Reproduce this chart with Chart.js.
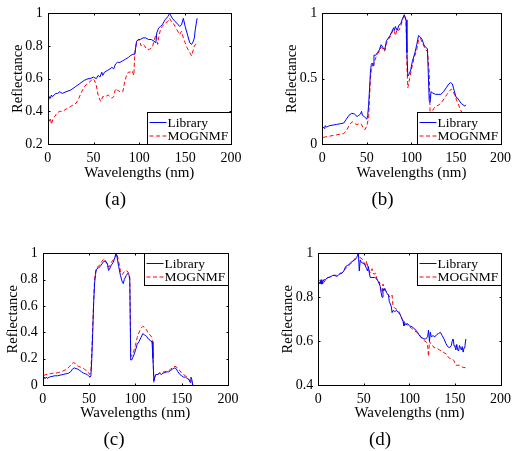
<!DOCTYPE html>
<html>
<head>
    <title>Library vs MOGNMF spectra</title>
    <script src="https://cdn.jsdelivr.net/npm/chart.js"></script>
    <style>
        body { margin: 0; background: #fff; width: 517px; height: 451px; overflow: hidden; position: relative; }
        canvas { position: absolute; }
    </style>
</head>
<body>
    <canvas id="chartA" width="258" height="225" style="left:0;top:0"></canvas>
    <canvas id="chartB" width="259" height="225" style="left:258px;top:0"></canvas>
    <canvas id="chartC" width="258" height="225" style="left:0;top:240px"></canvas>
    <canvas id="chartD" width="259" height="225" style="left:258px;top:240px"></canvas>
    <script type="text/javascript">
        // (a) spectra
        const xLibA = [1,2,3,4,5,7,9,11,13,16,20,25,30,35,40,44,46,50,53,55,57,59,60,62,65,68,70,72,74,76,79,82,85,88,90,93,95,96,97,99,101,104,107,110,113,116,118,119,121,123,125,128,131,133,134,136,139,141,144,146,148,150,152,155,157,159,160,161,163];
        const libA = [0.47,0.49,0.48,0.50,0.49,0.50,0.51,0.51,0.52,0.51,0.52,0.53,0.55,0.57,0.59,0.60,0.60,0.61,0.60,0.62,0.61,0.64,0.62,0.64,0.65,0.66,0.67,0.66,0.69,0.70,0.70,0.71,0.72,0.73,0.74,0.75,0.75,0.79,0.83,0.84,0.84,0.85,0.85,0.84,0.84,0.83,0.82,0.88,0.91,0.92,0.93,0.96,0.98,1.0,0.99,0.97,0.95,0.94,0.92,0.93,0.97,0.92,0.88,0.82,0.81,0.83,0.85,0.90,0.97];
        const xMogA = [1,2,3,4,6,8,10,13,16,19,22,25,28,31,34,37,40,43,46,49,51,53,55,57,58,60,63,66,68,70,72,74,76,79,82,84,86,88,90,92,94,95,97,100,102,104,106,108,111,114,116,118,119,120,121,123,125,128,131,133,135,137,139,141,144,146,148,150,152,155,157,160,163];
        const mogA = [0.35,0.34,0.36,0.32,0.36,0.37,0.39,0.40,0.40,0.41,0.42,0.43,0.44,0.45,0.48,0.52,0.55,0.57,0.58,0.60,0.59,0.56,0.50,0.47,0.46,0.49,0.49,0.50,0.49,0.48,0.49,0.54,0.53,0.52,0.52,0.58,0.62,0.64,0.64,0.65,0.62,0.75,0.83,0.84,0.80,0.81,0.80,0.78,0.78,0.79,0.83,0.87,0.85,0.81,0.85,0.90,0.92,0.94,0.95,0.97,0.95,0.94,0.92,0.90,0.87,0.89,0.85,0.82,0.79,0.76,0.74,0.80,0.82];

        // (b) spectra
        const xLibB = [1,2,3,5,8,12,16,20,24,27,30,33,36,39,41,43,44,45,47,50,51,52,53,54,55,56,57,58,60,62,64,66,68,70,72,74,76,78,80,81,82,84,86,88,90,92,94,95,96,97,99,101,104,106,108,110,112,114,116,118,120,121,122,124,127,130,133,136,139,142,144,146,148,150,152,154,156,158,160,161];
        const libB = [0.13,0.12,0.14,0.13,0.14,0.145,0.15,0.155,0.16,0.19,0.22,0.235,0.23,0.21,0.22,0.23,0.25,0.22,0.21,0.19,0.22,0.30,0.42,0.55,0.61,0.62,0.60,0.68,0.68,0.70,0.72,0.76,0.74,0.72,0.79,0.81,0.83,0.86,0.89,0.87,0.90,0.87,0.91,0.92,0.96,0.99,0.95,0.70,0.52,0.53,0.56,0.63,0.70,0.76,0.83,0.82,0.80,0.76,0.74,0.73,0.33,0.32,0.40,0.39,0.38,0.38,0.38,0.40,0.43,0.46,0.47,0.46,0.41,0.36,0.35,0.33,0.31,0.30,0.29,0.30];
        const xMogB = [1,4,8,12,16,20,24,27,30,32,34,36,38,40,42,44,46,48,50,52,53,54,55,56,58,60,62,64,66,68,70,72,74,76,78,80,81,82,84,86,88,90,92,94,95,96,98,100,103,106,108,110,112,114,116,118,120,121,122,124,126,128,131,134,137,140,143,145,147,149,151,153,155,157];
        const mogB = [0.05,0.055,0.06,0.065,0.07,0.075,0.08,0.10,0.14,0.16,0.17,0.16,0.15,0.15,0.16,0.15,0.12,0.11,0.14,0.20,0.35,0.50,0.57,0.59,0.62,0.66,0.69,0.71,0.74,0.73,0.71,0.77,0.80,0.82,0.85,0.88,0.86,0.83,0.88,0.87,0.90,0.95,0.99,0.94,0.60,0.43,0.50,0.57,0.66,0.72,0.80,0.81,0.78,0.75,0.72,0.71,0.55,0.23,0.22,0.26,0.28,0.29,0.30,0.32,0.35,0.38,0.41,0.42,0.40,0.37,0.33,0.30,0.26,0.24];

        // (c) spectra
        const xLibC = [1,2,3,4,5,7,10,13,16,19,22,25,28,30,32,34,36,38,40,42,44,46,48,50,51,52,53,54,55,56,57,58,60,62,64,66,68,70,71,72,74,76,78,79,80,82,84,86,87,88,90,92,93,94,95,96,98,100,102,104,106,108,110,112,114,116,117,118,119,120,121,122,124,126,128,130,132,134,136,138,140,142,144,146,148,150,152,154,156,158,159,160,161,162];
        const libC = [0.04,0.06,0.05,0.06,0.05,0.06,0.065,0.07,0.07,0.075,0.08,0.085,0.09,0.10,0.12,0.13,0.125,0.12,0.11,0.10,0.09,0.085,0.08,0.065,0.06,0.07,0.20,0.40,0.62,0.77,0.84,0.88,0.89,0.90,0.92,0.94,0.94,0.92,0.87,0.88,0.91,0.93,0.97,1.0,0.98,0.90,0.83,0.78,0.77,0.80,0.83,0.85,0.84,0.80,0.19,0.19,0.22,0.26,0.31,0.33,0.36,0.39,0.38,0.37,0.35,0.34,0.33,0.33,0.20,0.03,0.06,0.08,0.08,0.09,0.08,0.09,0.095,0.10,0.10,0.11,0.12,0.13,0.125,0.10,0.08,0.07,0.06,0.06,0.05,0.04,0.02,0.06,0.04,0.0];
        const xMogC = [1,3,5,8,11,14,17,20,23,26,29,31,33,35,37,39,41,43,45,47,49,50,51,52,53,54,55,56,57,58,60,62,64,66,68,70,72,74,76,78,80,82,84,86,88,90,92,94,95,96,98,100,102,104,106,108,110,112,114,116,118,119,120,121,122,124,126,128,130,132,134,136,138,140,142,144,146,148,150,152,154,156,158,160,162];
        const mogC = [0.07,0.08,0.08,0.085,0.09,0.09,0.095,0.10,0.11,0.12,0.14,0.16,0.17,0.165,0.15,0.14,0.135,0.13,0.12,0.11,0.10,0.085,0.08,0.10,0.25,0.45,0.65,0.80,0.86,0.89,0.90,0.92,0.94,0.96,0.94,0.90,0.90,0.93,0.95,0.97,1.0,0.94,0.86,0.84,0.86,0.87,0.86,0.82,0.22,0.22,0.25,0.30,0.36,0.40,0.43,0.445,0.44,0.42,0.39,0.38,0.36,0.25,0.02,0.06,0.08,0.08,0.09,0.09,0.10,0.10,0.11,0.11,0.12,0.13,0.14,0.14,0.12,0.11,0.09,0.08,0.07,0.06,0.04,0.03,0.0];

        // (d) spectra
        const xLibD = [1,2,3,4,5,6,8,10,12,14,16,18,20,22,24,26,28,30,32,34,36,38,40,42,43,44,45,46,47,49,51,53,54,55,56,57,58,60,62,64,66,68,69,70,71,72,73,75,77,78,80,81,82,84,86,88,90,92,93,94,95,96,98,100,103,106,109,112,114,116,118,120,121,122,123,124,126,128,130,132,134,136,138,140,142,144,146,147,148,149,150,151,152,153,154,155,156,157,158,159,160,161,162];
        const libD = [0.87,0.86,0.88,0.86,0.87,0.88,0.88,0.89,0.89,0.895,0.90,0.90,0.895,0.90,0.91,0.91,0.92,0.94,0.945,0.95,0.96,0.965,0.97,0.98,0.99,1.0,0.92,0.97,0.96,0.955,0.95,0.93,0.92,0.94,0.91,0.89,0.89,0.89,0.89,0.885,0.87,0.85,0.82,0.80,0.84,0.83,0.84,0.82,0.81,0.78,0.76,0.73,0.74,0.735,0.74,0.73,0.72,0.70,0.69,0.67,0.68,0.675,0.68,0.67,0.665,0.655,0.64,0.62,0.615,0.61,0.61,0.62,0.65,0.60,0.64,0.62,0.625,0.62,0.63,0.635,0.64,0.625,0.61,0.59,0.575,0.57,0.58,0.60,0.61,0.58,0.575,0.56,0.585,0.56,0.555,0.58,0.57,0.56,0.575,0.55,0.57,0.58,0.61];
        const xMogD = [1,3,5,8,11,14,17,20,23,26,29,32,35,38,41,43,44,46,48,50,52,53,55,57,59,61,63,65,67,69,70,71,72,73,75,77,79,81,82,84,86,88,90,92,94,96,99,102,105,108,111,114,117,119,120,121,122,123,125,127,129,131,133,135,137,139,141,143,145,147,149,151,153,155,157,159,161,163];
        const mogD = [0.88,0.87,0.86,0.88,0.89,0.895,0.90,0.90,0.905,0.91,0.925,0.94,0.95,0.965,0.98,0.99,1.0,0.98,0.975,0.96,0.94,0.965,0.93,0.91,0.93,0.905,0.91,0.87,0.87,0.83,0.82,0.86,0.85,0.835,0.825,0.81,0.80,0.81,0.76,0.75,0.745,0.74,0.72,0.70,0.69,0.68,0.67,0.66,0.65,0.64,0.63,0.61,0.60,0.595,0.58,0.53,0.60,0.59,0.585,0.57,0.57,0.565,0.56,0.555,0.55,0.545,0.54,0.525,0.52,0.52,0.51,0.49,0.49,0.49,0.485,0.48,0.48,0.475];

        const xTicks = [0, 50, 100, 150, 200];
        const seriesNames = ['Library', 'MOGNMF'];
        const captions = ['(a)', '(b)', '(c)', '(d)'];

        const SERIF = '"Liberation Serif", "Times New Roman", serif';

        function toXY(xs, ys) {
            return xs.map(function(x, i) { return {x: x, y: ys[i]}; });
        }

        // MATLAB-ish box: frame, inward ticks on all four sides, legend drawn inside the axes
        const boxPlugin = {
            id: 'boxPlugin',
            afterDraw: function(chart) {
                const ctx = chart.ctx;
                const a = chart.chartArea;
                const L = Math.round(a.left) + 0.5, R = Math.round(a.right) + 0.5;
                const T = Math.round(a.top) + 0.5, B = Math.round(a.bottom) + 0.5;
                ctx.save();
                ctx.strokeStyle = '#000';
                ctx.lineWidth = 1;
                ctx.setLineDash([]);
                ctx.strokeRect(L, T, R - L, B - T);
                const tl = 2;
                ctx.beginPath();
                chart.scales.x.ticks.forEach(function(t) {
                    const px = Math.round(chart.scales.x.getPixelForValue(t.value)) + 0.5;
                    ctx.moveTo(px, B); ctx.lineTo(px, B - tl);
                    ctx.moveTo(px, T); ctx.lineTo(px, T + tl);
                });
                chart.scales.y.ticks.forEach(function(t) {
                    const py = Math.round(chart.scales.y.getPixelForValue(t.value)) + 0.5;
                    ctx.moveTo(L, py); ctx.lineTo(L + tl, py);
                    ctx.moveTo(R, py); ctx.lineTo(R - tl, py);
                });
                ctx.stroke();

                // legend box
                const opts = chart.options.plugins.boxPlugin;
                const w = 84, h = 32;
                const bx = R - w;
                const by = opts.corner === 'top' ? T : B - h;
                ctx.fillStyle = '#fff';
                ctx.fillRect(bx, by, w, h);
                ctx.strokeRect(bx, by, w, h);
                ctx.font = '13.5px ' + SERIF;
                ctx.textBaseline = 'middle';
                ctx.textAlign = 'left';
                chart.data.datasets.forEach(function(ds, i) {
                    const ly = by + 10 + i * 13.5;
                    ctx.beginPath();
                    ctx.strokeStyle = ds.borderColor;
                    ctx.lineWidth = ds.borderWidth;
                    ctx.setLineDash(ds.borderDash || []);
                    ctx.moveTo(bx + 2, ly);
                    ctx.lineTo(bx + 19, ly);
                    ctx.stroke();
                    ctx.fillStyle = '#000';
                    ctx.fillText(ds.label, bx + 20, ly + 0.5);
                });
                ctx.restore();
            }
        };

        function panel(id, p) {
            new Chart(document.getElementById(id), {
                type: 'line',
                data: {
                    datasets: [
                        { label: seriesNames[0], data: toXY(p.xLib, p.lib), borderColor: '#0000ff', borderWidth: 1, pointRadius: 0, tension: 0 },
                        { label: seriesNames[1], data: toXY(p.xMog, p.mog), borderColor: '#ff0000', borderWidth: 1, borderDash: [4, 2.5], pointRadius: 0, tension: 0 }
                    ]
                },
                options: {
                    responsive: false,
                    animation: false,
                    layout: { padding: { left: 0, right: p.padR, top: 10, bottom: 13.6 } },
                    plugins: {
                        legend: { display: false },
                        tooltip: { enabled: false },
                        title: { display: true, position: 'bottom', text: p.caption, color: '#000', padding: 0, font: { family: SERIF, size: 19, weight: 'normal', lineHeight: 1.2 } },
                        boxPlugin: { corner: p.corner }
                    },
                    scales: {
                        x: {
                            type: 'linear', min: 0, max: 200,
                            afterBuildTicks: function(s) { s.ticks = xTicks.map(function(v) { return {value: v}; }); },
                            ticks: { color: '#000', padding: 6, maxRotation: 0, font: { family: SERIF, size: 14 } },
                            grid: { display: false, drawTicks: false },
                            border: { display: false },
                            title: { display: true, text: 'Wavelengths (nm)', color: '#000', padding: { top: 0, bottom: 6.3 }, font: { family: SERIF, size: 15, lineHeight: 1.2 } },
                            afterFit: function(s) { s.height = p.xH; }
                        },
                        y: {
                            min: p.yMin, max: p.yMax,
                            afterBuildTicks: function(s) { s.ticks = p.yTicks.map(function(v) { return {value: v}; }); },
                            ticks: { color: '#000', padding: 5, font: { family: SERIF, size: 14 }, callback: function(v) { return String(+v.toFixed(2)); } },
                            grid: { display: false, drawTicks: false },
                            border: { display: false },
                            title: { display: true, text: 'Reflectance', color: '#000', padding: { top: p.yTitlePad, bottom: 0 }, font: { family: SERIF, size: 14.5, lineHeight: 1.2 } },
                            afterFit: function(s) { s.width = p.yW; }
                        }
                    }
                },
                plugins: [boxPlugin]
            });
        }

        panel('chartA', { xLib: xLibA, lib: libA, xMog: xMogA, mog: mogA, caption: captions[0], corner: 'bottom',
            yMin: 0.2, yMax: 1, yTicks: [0.2, 0.4, 0.6, 0.8, 1], yW: 47.7, yTitlePad: 9.3, padR: 27, xH: 44.6 });
        panel('chartB', { xLib: xLibB, lib: libB, xMog: xMogB, mog: mogB, caption: captions[1], corner: 'bottom',
            yMin: 0, yMax: 1, yTicks: [0, 0.5, 1], yW: 64.3, yTitlePad: 25, padR: 10, xH: 44.6 });
        panel('chartC', { xLib: xLibC, lib: libC, xMog: xMogC, mog: mogC, caption: captions[2], corner: 'top',
            yMin: 0, yMax: 1, yTicks: [0, 0.2, 0.4, 0.6, 0.8, 1], yW: 42.7, yTitlePad: 4.6, padR: 30, xH: 43.6 });
        panel('chartD', { xLib: xLibD, lib: libD, xMog: xMogD, mog: mogD, caption: captions[3], corner: 'top',
            yMin: 0.4, yMax: 1, yTicks: [0.4, 0.6, 0.8, 1], yW: 60.3, yTitlePad: 21.6, padR: 15, xH: 43.6 });
    </script>
</body>
</html>
